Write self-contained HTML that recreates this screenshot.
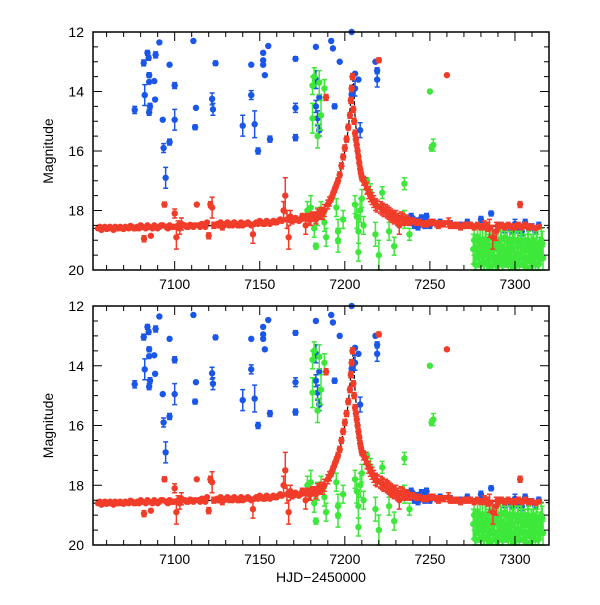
<!DOCTYPE html>
<html><head><meta charset="utf-8">
<style>
html,body{margin:0;padding:0;background:#fff;}
svg text{font-family:"Liberation Sans",sans-serif;}
</style></head>
<body>
<svg id="chart" width="600" height="600" viewBox="0 0 600 600" xmlns="http://www.w3.org/2000/svg"></svg>
<script>
// ---- data: [HJD-2450000, magnitude, error] ----
const xTicks = [7100, 7150, 7200, 7250, 7300];
const yTicks = [12, 14, 16, 18, 20];
const blueData = [
[7076.5,14.62,0.12],[7081.8,13.04,0.1],[7082.4,14.12,0.35],[7084,12.7,0.08],[7084.7,12.87,0.08],
[7085,13.45,0.08],[7085,13.68,0.06],[7085,14.7,0.1],[7085.5,14.5,0.1],[7088,13.65,0.06],
[7088.8,12.77,0.1],[7088.5,14.27,0.05],[7093,14.95,0.06],[7093.5,15.9,0.15],[7094.7,16.9,0.35],
[7091,12.35,0.05],[7097,15.7,0.1],[7097,13.1,0.05],[7100,13.8,0.1],[7100,14.95,0.35],
[7111,12.3,0.04],[7112,15.2,0.08],[7112.5,14.55,0.06],[7122,14.25,0.2],[7122.5,14.6,0.2],
[7124,13.05,0.07],[7140,15.15,0.35],[7145,14.12,0.15],[7145,13.1,0.04],[7147,15.1,0.45],
[7149,16.0,0.1],[7152,12.7,0.05],[7152,12.95,0.05],[7152,13.1,0.05],[7153,13.45,0.05],
[7155,12.47,0.04],[7156,15.6,0.1],[7171,12.9,0.07],[7171,14.55,0.15],[7171,15.55,0.1],
[7183,12.5,0.06],[7183,13.6,0.3],[7183,14.5,0.2],[7184,14.9,0.25],[7185,15.3,0.2],[7185,14.2,0.1],
[7192,12.3,0.06],[7193,12.55,0.06],[7194,14.5,0.08],[7197,13.0,0.06],[7204,12.0,0.05],
[7206,13.4,0.05],[7206,13.9,0.25],[7204,14.1,0.3],[7209,15.3,0.25],[7208,13.6,0.05],
[7218,13.0,0.06],[7219,13.6,0.25],[7219,13.3,0.1],
[7238,18.4,0.1],[7239,18.2,0.1],[7240,18.3,0.1],[7241,18.5,0.1],[7242,18.35,0.1],[7243,18.55,0.1],
[7244,18.4,0.1],[7245,18.25,0.1],[7246,18.45,0.1],[7247,18.5,0.1],[7248,18.2,0.1],[7250,18.5,0.1],
[7256,18.4,0.1],[7262,18.45,0.1],[7268,18.5,0.1],[7272,18.4,0.1],[7280,18.3,0.1],
[7283,19.2,0.08],[7286,18.1,0.08],[7290,18.5,0.1],[7294,18.6,0.15],[7296,18.55,0.1],[7298,18.7,0.1],[7300,18.45,0.15],
[7302,18.6,0.15],[7304,18.7,0.15],[7306,18.4,0.1],[7308,18.6,0.1],[7310,18.55,0.1],[7312,18.7,0.1],[7314,18.5,0.1]
];
const greenData = [
[7178,18.0,0.3],[7179,18.3,0.2],[7180,17.9,0.4],[7181,13.8,0.3],[7181,14.9,0.5],[7182,13.5,0.3],
[7182,18.6,0.3],[7183,19.2,0.1],[7184,18.2,0.3],[7184,15.5,0.4],[7185,13.7,0.4],[7186,14.8,0.5],
[7186,18.0,0.3],[7188,13.9,0.3],[7188,18.4,0.3],[7189,18.9,0.3],
[7195,17.9,0.3],[7196,18.7,0.4],[7196,19.0,0.4],[7197,16.8,0.05],[7199,18.3,0.3],
[7206,17.8,0.3],[7207,18.2,0.4],[7208,18.7,0.4],[7208,19.4,0.3],[7209,18.0,0.4],[7210,17.6,0.3],[7211,18.5,0.3],
[7213,17.0,0.1],[7215,17.4,0.3],[7218,18.8,0.4],[7220,19.5,0.5],[7222,17.4,0.2],[7226,18.7,0.3],
[7229,19.2,0.3],[7235,17.1,0.2],[7235,18.3,0.3],[7238,18.8,0.2],[7250,14.0,0.04],[7251,15.9,0.1],[7252,15.8,0.2],
[7275.5,19.3,0.5],[7276,19.0,0.5],[7276.5,19.8,0.3],[7277,19.6,0.4],[7277.5,19.2,0.4],[7278,18.9,0.4],[7278.5,19.5,0.4],
[7279,19.4,0.5],[7279.5,19.0,0.4],[7280,19.8,0.3],[7280.5,19.3,0.4],[7281,19.1,0.5],[7281.5,19.7,0.3],
[7282,19.5,0.5],[7282.5,19.0,0.4],[7283,19.0,0.4],[7283.5,19.8,0.3],[7284,19.7,0.4],[7284.5,19.2,0.4],
[7285,19.3,0.5],[7285.5,19.9,0.3],[7286,18.9,0.4],[7286.5,19.5,0.4],[7287,19.6,0.4],[7287.5,19.1,0.4],
[7288,19.2,0.5],[7288.5,19.8,0.3],[7289,19.8,0.3],[7289.5,19.3,0.4],[7290,19.0,0.5],[7290.5,19.7,0.3],
[7291,19.5,0.4],[7291.5,19.0,0.4],[7292,19.2,0.5],[7292.5,19.8,0.3],[7293,19.7,0.3],[7293.5,19.3,0.4],
[7294,18.9,0.4],[7294.5,19.6,0.3],[7295,19.4,0.5],[7295.5,19.0,0.4],[7296,19.8,0.3],[7296.5,19.3,0.4],
[7297,19.1,0.4],[7297.5,19.7,0.3],[7298,19.6,0.4],[7298.5,19.0,0.4],[7299,19.3,0.5],[7299.5,19.9,0.3],
[7300,19.0,0.4],[7300.5,19.5,0.4],[7301,19.7,0.3],[7301.5,19.1,0.4],[7302,19.2,0.5],[7302.5,19.8,0.3],
[7303,19.5,0.4],[7303.5,19.0,0.4],[7304,19.0,0.4],[7304.5,19.6,0.3],[7305,19.8,0.3],[7305.5,19.2,0.4],
[7306,19.3,0.5],[7306.5,19.9,0.3],[7307,19.6,0.4],[7307.5,19.0,0.4],[7308,19.1,0.4],[7308.5,19.7,0.3],
[7309,19.7,0.3],[7309.5,19.2,0.4],[7310,19.3,0.5],[7310.5,19.8,0.3],[7311,19.0,0.4],[7311.5,19.5,0.4],
[7312,19.6,0.4],[7312.5,19.1,0.4],[7313,19.2,0.4],[7313.5,19.8,0.3],[7314,19.8,0.3],[7314.5,19.3,0.4],
[7315,19.4,0.4],[7315.5,19.0,0.4],[7316,19.1,0.4],[7316.5,19.6,0.4]
];
const redData = [
[7055,18.6,0.05],[7056,18.55,0.05],[7057,18.65,0.05],[7058,18.6,0.05],[7059,18.55,0.05],[7060,18.62,0.05],[7061,18.6,0.05],[7062,18.55,0.05],[7063,18.6,0.05],[7064,18.65,0.05],[7065,18.55,0.05],
[7066,18.6,0.05],[7067,18.6,0.05],[7068,18.55,0.05],[7069,18.6,0.05],[7070,18.62,0.05],[7071,18.55,0.05],[7072,18.58,0.05],[7073,18.6,0.06],[7074,18.52,0.05],[7075,18.55,0.05],[7076,18.6,0.05],[7077,18.6,0.05],
[7078,18.55,0.05],[7079,18.6,0.06],[7080,18.5,0.05],[7081,18.55,0.05],[7082,18.95,0.1],[7083,18.6,0.05],[7084,18.5,0.05],[7085,18.55,0.05],[7086,18.85,0.05],
[7087,18.6,0.05],[7088,18.5,0.05],[7089,18.55,0.05],[7090,18.6,0.05],[7091,18.55,0.06],[7092,18.5,0.05],[7093,18.5,0.06],[7094,17.8,0.08],[7095,18.55,0.05],[7096,18.6,0.05],
[7097,18.5,0.05],[7098,18.55,0.05],[7099,18.55,0.08],[7100,18.1,0.15],[7101,18.9,0.4],[7102,18.5,0.15],[7103,18.6,0.2],[7104,18.45,0.2],
[7106,18.5,0.05],[7107,18.55,0.05],[7108,18.55,0.05],[7109,18.48,0.05],[7110,18.5,0.05],[7111,18.55,0.05],[7112,18.5,0.05],[7113,17.8,0.05],[7114,18.5,0.05],[7115,18.55,0.05],
[7116,18.45,0.05],[7117,18.5,0.05],[7118,18.55,0.05],[7119,18.4,0.05],[7120,18.85,0.1],[7121,17.8,0.1],[7122,17.9,0.35],[7123,18.5,0.1],
[7125,18.45,0.05],[7126,18.5,0.08],[7127,18.4,0.05],[7128,18.55,0.1],[7129,18.5,0.05],[7130,18.45,0.05],[7131,18.4,0.05],[7132,18.5,0.05],[7133,18.45,0.05],[7134,18.5,0.06],[7135,18.4,0.05],[7136,18.45,0.05],
[7137,18.5,0.05],[7138,18.5,0.05],[7139,18.4,0.05],[7140,18.5,0.05],[7141,18.45,0.05],[7142,18.45,0.05],[7143,18.4,0.05],[7144,18.45,0.05],[7145,18.5,0.05],[7146,18.8,0.3],[7147,18.45,0.05],
[7148,18.4,0.05],[7149,18.45,0.05],[7150,18.35,0.05],[7151,18.4,0.05],[7152,18.45,0.05],[7153,18.45,0.05],[7154,18.35,0.05],[7155,18.4,0.05],[7156,18.45,0.05],[7157,18.4,0.05],[7158,18.35,0.05],[7159,18.4,0.05],
[7160,18.4,0.05],[7161,18.35,0.05],[7162,18.3,0.05],[7163,18.35,0.05],[7164,18.0,0.3],[7165,17.5,0.6],[7166,18.3,0.3],[7167,18.9,0.4],
[7168,18.2,0.2],[7169,18.35,0.1],[7170,18.3,0.1],[7171,18.25,0.05],[7172,18.3,0.05],[7173,18.35,0.05],[7174,18.3,0.05],[7175,18.2,0.1],[7176,18.25,0.1],[7177,18.5,0.3],
[7178,18.2,0.1],[7179,18.3,0.15],[7180,18.3,0.2],[7181,18.15,0.1],[7182,18.2,0.1],[7183,18.3,0.15],[7184,18.1,0.15],[7185,18.2,0.1],[7186,18.05,0.15],[7187,18.1,0.2],[7188,18.0,0.2],[7189,14.2,0.1],
[7190,17.8,0.15],[7191,17.7,0.15],[7192,17.6,0.1],[7193,17.45,0.1],[7194,17.3,0.1],[7195,17.15,0.1],[7196,17.0,0.1],[7197,16.8,0.1],[7198,16.5,0.1],
[7199,16.2,0.1],[7200,15.9,0.1],[7201,15.6,0.1],[7202,15.2,0.1],[7203,14.8,0.1],[7203.5,14.3,0.1],
[7204,13.9,0.1],[7204.5,13.5,0.1],[7205,14.6,0.1],[7205.5,15.0,0.1],[7206,15.4,0.1],[7206.5,15.6,0.1],[7207,15.8,0.1],[7207.5,16.0,0.1],
[7208,16.2,0.1],[7208.5,16.4,0.1],[7209,16.6,0.1],[7209.5,16.75,0.1],[7210,16.9,0.1],[7211,17.0,0.15],[7212,17.1,0.2],[7213,17.25,0.2],[7214,17.4,0.2],[7215,17.5,0.2],[7216,17.6,0.2],[7217,17.7,0.2],
[7218,17.8,0.2],[7220,12.95,0.08],[7219,17.85,0.2],[7221,17.9,0.2],[7222,17.95,0.2],[7223,18.0,0.2],[7224,18.0,0.2],[7225,18.05,0.2],[7226,18.1,0.2],[7227,18.15,0.2],[7228,18.2,0.2],[7229,18.25,0.2],
[7230,18.2,0.2],[7231,18.3,0.2],[7232,18.5,0.3],[7233,18.25,0.2],[7234,18.3,0.2],[7235,18.35,0.15],[7236,18.3,0.15],[7237,18.3,0.1],[7238,18.4,0.1],[7239,18.35,0.1],[7240,18.35,0.1],[7242,18.4,0.1],[7244,18.4,0.1],
[7246,18.45,0.1],[7248,18.45,0.1],[7250,18.4,0.1],[7252,18.4,0.1],[7254,18.45,0.1],[7255,18.5,0.1],[7256,18.45,0.1],[7258,18.45,0.1],[7260,13.45,0.06],[7261,18.4,0.15],[7262,18.5,0.1],
[7264,18.5,0.1],[7266,18.5,0.1],[7268,18.55,0.1],[7270,18.5,0.1],[7272,18.5,0.1],[7274,18.5,0.1],[7276,18.55,0.1],[7278,18.5,0.1],[7280,18.55,0.1],[7282,18.5,0.15],[7284,18.55,0.15],[7285,18.6,0.3],
[7287,18.9,0.4],[7289,18.7,0.3],[7290,18.55,0.1],[7292,18.5,0.1],[7294,18.55,0.1],[7296,18.5,0.1],[7298,18.55,0.1],[7300,18.55,0.1],[7302,18.5,0.1],[7303,17.8,0.1],
[7304,18.55,0.1],[7306,18.5,0.1],[7308,18.55,0.1],[7310,18.55,0.08],[7312,18.6,0.05],[7314,18.55,0.05]
];
const modelDays = [7052,7100,7150,7180,7190,7196,7200,7202,7204,7205,7206,7208,7212,7220,7240,7270,7320];
const modelMags = [18.6,18.55,18.45,18.25,17.8,17.1,16.0,15.3,14.0,13.5,14.8,16.2,17.2,17.9,18.35,18.5,18.58];

const svg = document.getElementById('chart');
const NS = 'http://www.w3.org/2000/svg';
const X0 = 93, X1 = 549, D0 = 7052, D1 = 7320;
function xs(d){ return X0 + (d - D0) * (X1 - X0) / (D1 - D0); }
function mk(tag, attrs, parent){
  const e = document.createElementNS(NS, tag);
  for (const k in attrs) e.setAttribute(k, attrs[k]);
  (parent || svg).appendChild(e);
  return e;
}
function drawPanel(top, bottom, name){
  const g = mk('g', {});
  
  
  const ys = m => top + (m - 12) * (bottom - top) / 8;
  let d = '';
  modelDays.forEach((v,i)=>{ d += (i?'L':'M') + xs(v).toFixed(1) + ' ' + ys(modelMags[i]).toFixed(1); });
  const ml = mk('path', {d:d, fill:'none', stroke:'#000', 'stroke-width':1.2, 'stroke-dasharray':'4 2'}, g);
  
  
  function series(data, color, sname){
    const sg = mk('g', {fill:color, stroke:color}, g);
    
    
    data.forEach(p=>{
      const x = xs(p[0]), y = ys(p[1]);
      if (y < top - 2 || y > bottom + 2) return;
      const e = p[2] * (bottom - top) / 8;
      if (e > 2) {
        const y1 = Math.max(top, y - e), y2 = Math.min(bottom, y + e);
        mk('path', {d:`M${x} ${y1}V${y2}M${x-2.5} ${y1}H${x+2.5}M${x-2.5} ${y2}H${x+2.5}`, 'stroke-width':1.5, fill:'none'}, sg);
      }
      const c = mk('circle', {cx:x, cy:y, r:3.2, stroke:'none'}, sg);
      
      
    });
  }
  series(blueData, '#1a56e8', 'blue-series');
  series(greenData, '#3ee83a', 'green-series');
  series(redData, '#f23c2a', 'red-series');
  const fr = mk('rect', {x:X0, y:top, width:X1-X0, height:bottom-top, fill:'none', stroke:'#000', 'stroke-width':1.5}, g);
  
  
  for (let t = 7060; t <= 7310; t += 10){
    const x = xs(t), L = (t % 50 === 0) ? 9 : 5;
    mk('path', {d:`M${x} ${bottom}v${-L}M${x} ${top}v${L}`, stroke:'#000', 'stroke-width':1}, g);
  }
  xTicks.forEach(t=>{
    const tx = mk('text', {x:xs(t), y:bottom+19, 'font-size':14, 'text-anchor':'middle'}, g);
    tx.textContent = t;
    
    
  });
  for (let m = 12.5; m < 20; m += 0.5){
    const y = ys(m), L = (m % 2 === 0) ? 9 : 5;
    mk('path', {d:`M${X0} ${y}h${L}M${X1} ${y}h${-L}`, stroke:'#000', 'stroke-width':1}, g);
  }
  yTicks.forEach(m=>{
    const tx = mk('text', {x:84, y:ys(m)+5, 'font-size':14, 'text-anchor':'end'}, g);
    tx.textContent = m;
    
    
  });
  const yl = mk('text', {x:0, y:0, 'font-size':14, 'text-anchor':'middle', transform:`translate(53 ${(top+bottom)/2}) rotate(-90)`}, g);
  yl.textContent = 'Magnitude';
  
  
}
drawPanel(32, 270, 'top-panel');
drawPanel(306, 545, 'bottom-panel');
const xl = mk('text', {x:321, y:582, 'font-size':14, 'text-anchor':'middle'});
xl.textContent = 'HJD\u22122450000';


</script>
</body></html>
